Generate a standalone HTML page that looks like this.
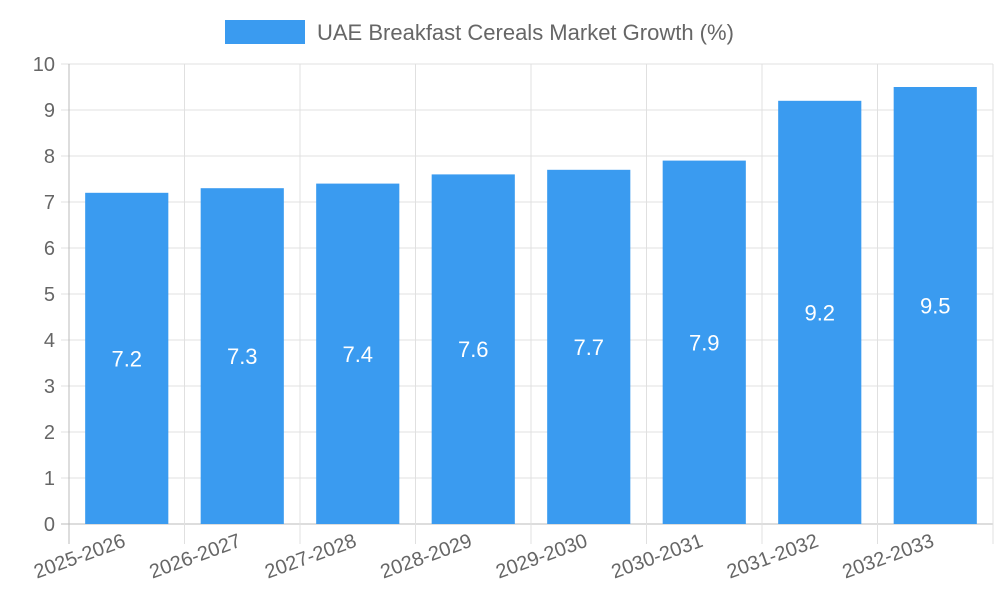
<!DOCTYPE html>
<html><head><meta charset="utf-8"><style>
body{margin:0;background:#fff;}
svg text{font-family:"Liberation Sans",sans-serif;}
</style></head><body>
<svg width="1000" height="600" viewBox="0 0 1000 600">
<g>
<rect x="225" y="20" width="80" height="24" fill="#3a9bf0"/>
<text x="317" y="40" font-size="22" fill="#666">UAE Breakfast Cereals Market Growth (%)</text>
</g>
<g id="grid"></g>
<g id="bars"></g>
<g id="labels"></g>
</svg>
<script>
const categories=["2025-2026","2026-2027","2027-2028","2028-2029","2029-2030","2030-2031","2031-2032","2032-2033"];
const values=[7.2,7.3,7.4,7.6,7.7,7.9,9.2,9.5];
const yTicks=[0,1,2,3,4,5,6,7,8,9,10];
const L=69,R=993,T=64,B=524,yMax=10;
const ns="http://www.w3.org/2000/svg";
const y=v=>B-(v/yMax)*(B-T);
const cw=(R-L)/categories.length;
const x=i=>L+cw*i;
function mk(tag,attrs,parent){const e=document.createElementNS(ns,tag);for(const k in attrs)e.setAttribute(k,attrs[k]);parent.appendChild(e);return e;}
const grid=document.getElementById('grid'),bars=document.getElementById('bars'),labs=document.getElementById('labels');
yTicks.forEach(t=>{
  const ln=mk('line',{x1:L-8,x2:R,y1:y(t),y2:y(t),stroke:t===0?'#bbb':'#e0e0e0','stroke-width':1},grid);
  
  
  const tx=mk('text',{x:L-14,y:y(t)+7,'text-anchor':'end','font-size':20,fill:'#666'},grid);
  tx.textContent=t;
  
  
});
for(let i=0;i<=categories.length;i++){
  const ln=mk('line',{x1:x(i),x2:x(i),y1:T,y2:B+20,stroke:i===0?'#bbb':'#e0e0e0','stroke-width':1},grid);
  
  
}
categories.forEach((c,i)=>{
  const bw=cw*0.72,cx=x(i)+cw/2,v=values[i];
  const r=mk('rect',{x:cx-bw/2,y:y(v),width:bw,height:B-y(v),fill:'#3a9bf0'},bars);
  
  
  const vt=mk('text',{x:cx,y:(y(v)+B)/2+8,'text-anchor':'middle','font-size':22,fill:'#fff'},bars);
  vt.textContent=v;
  
  
  const lt=mk('text',{x:cx,y:546,'text-anchor':'end','font-size':20,fill:'#666',transform:`rotate(-20 ${cx} 546)`},labs);
  lt.textContent=c;
  
  
});
</script>
</body></html>
